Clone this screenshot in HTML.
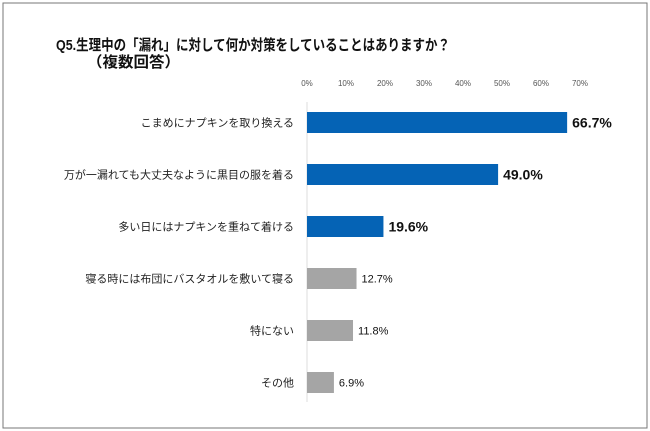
<!DOCTYPE html>
<html><head><meta charset="utf-8"><style>
html,body{margin:0;padding:0;background:#fff;}
svg{display:block;font-family:"Liberation Sans","Noto Sans CJK JP",sans-serif;}
</style></head><body>
<svg id="chart" width="650" height="431">
<rect x="3" y="3" width="644" height="425" fill="#fff" stroke="#777" stroke-width="1"/>
<text x="56" y="50" font-size="15" font-weight="bold" fill="#111" textLength="394" lengthAdjust="spacingAndGlyphs">Q5.生理中の「漏れ」に対して何か対策をしていることはありますか？</text>
<text x="87" y="67" font-size="15" font-weight="bold" fill="#111" textLength="93" lengthAdjust="spacingAndGlyphs">（複数回答）</text>
<line x1="307" y1="102" x2="307" y2="402" stroke="#ddd"/>
<g id="ticks"></g><g id="bars"></g>
</svg>
<script>
const categories=["こまめにナプキンを取り換える","万が一漏れても大丈夫なように黒目の服を着る","多い日にはナプキンを重ねて着ける","寝る時には布団にバスタオルを敷いて寝る","特にない","その他"];
const values=[66.7,49.0,19.6,12.7,11.8,6.9];
const highlight=[true,true,true,false,false,false];
const ticks=[0,10,20,30,40,50,60,70];
const NS="http://www.w3.org/2000/svg";
const x0=307,pxPer=3.9,rowTop=112,rowStep=52,barH=21;
const xs=v=>x0+v*pxPer;
const ys=i=>rowTop+i*rowStep;
const tg=document.getElementById('ticks'),bg=document.getElementById('bars');
function mk(t,a,p){const e=document.createElementNS(NS,t);for(const k in a)e.setAttribute(k,a[k]);p.appendChild(e);return e;}
ticks.forEach(t=>{const e=mk('text',{x:xs(t),y:86,'font-size':8,fill:'#555','text-anchor':'middle'},tg);


e.textContent=t+'%';});
categories.forEach((c,i)=>{const y=ys(i);
const l=mk('text',{x:294,y:y+barH/2+4,'font-size':11,fill:'#222','text-anchor':'end'},bg);


l.textContent=c;
const r=mk('rect',{x:x0,y:y,width:values[i]*pxPer,height:barH,fill:highlight[i]?'#0563B5':'#A5A5A5'},bg);


const v=mk('text',{x:xs(values[i])+5,y:y+barH/2+(highlight[i]?5:4),'font-size':highlight[i]?14:11,'font-weight':highlight[i]?'bold':'normal',fill:'#111'},bg);


v.textContent=values[i].toFixed(1)+'%';});
</script>
</body></html>
